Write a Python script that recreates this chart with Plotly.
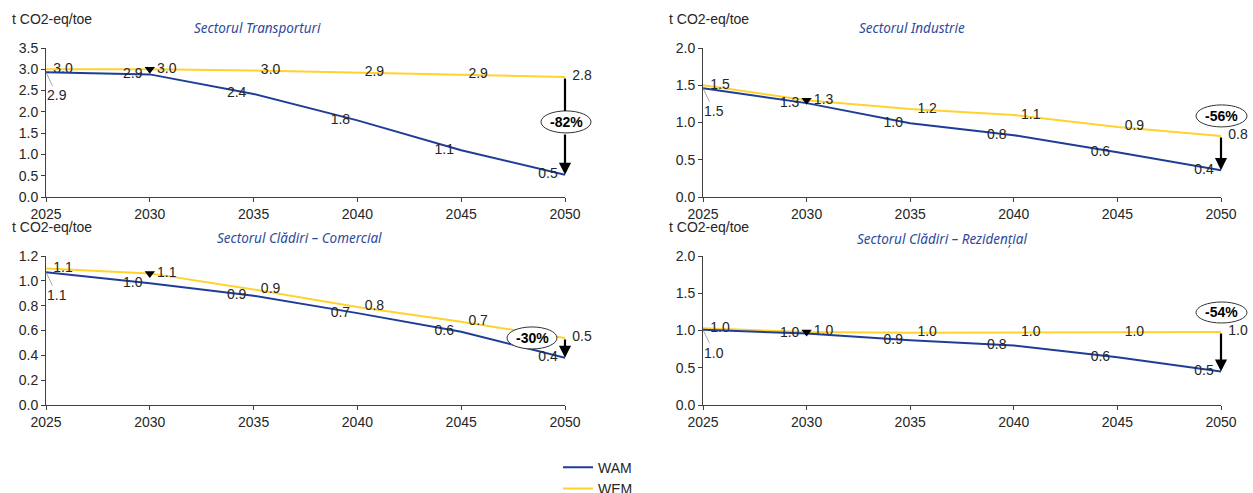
import plotly.graph_objects as go

# ---------------- data ----------------
years = [2025, 2030, 2035, 2040, 2045, 2050]

panel_titles = [
    "Sectorul Transporturi",
    "Sectorul Industrie",
    "Sectorul Clădiri – Comercial",
    "Sectorul Clădiri – Rezidențial",
]
unit_label = "t CO2-eq/toe"

wam_transport = [2.93, 2.88, 2.42, 1.80, 1.10, 0.52]
wem_transport = [3.00, 3.00, 2.97, 2.92, 2.88, 2.82]

wam_industrie = [1.46, 1.26, 0.99, 0.83, 0.60, 0.36]
wem_industrie = [1.50, 1.30, 1.18, 1.10, 0.94, 0.82]

wam_comercial = [1.07, 0.98, 0.88, 0.74, 0.59, 0.38]
wem_comercial = [1.10, 1.06, 0.93, 0.79, 0.67, 0.54]

wam_rezidential = [1.01, 0.96, 0.87, 0.80, 0.64, 0.45]
wem_rezidential = [1.03, 0.98, 0.97, 0.97, 0.97, 0.98]

reduction_labels = ["-82%", "-56%", "-30%", "-54%"]

y_max = [3.5, 2.0, 1.2, 2.0]
y_step = [0.5, 0.5, 0.2, 0.5]
x_ticks = [2025, 2030, 2035, 2040, 2045, 2050]

series_names = ["WAM", "WEM"]

# ---------------- styling ----------------
BLUE = "#1F3D98"
YELLOW = "#FFD22E"
TXT = "#262626"
AXC = "#404040"
FONT = "Liberation Sans, Arial, sans-serif"
FS = 14
W, H = 1253, 493

# plot areas in pixels: (left, right, top, bottom)
px_boxes = [(46, 565, 48, 197), (703, 1221, 48, 197),
            (46, 565, 256, 405), (703, 1221, 256, 405)]
title_pos = [(0.408, 1.134), (0.403, 1.134), (0.489, 1.121), (0.461, 1.114)]
# ellipse placement: (anchor, x0, x1, y0, y1) pixel offsets
ellipse_cfg = [("mid", -24, 26, -7, 15), ("wem", -25, 26, 9, 31),
               ("wem", -58, -8, -11, 11), ("wem", -25, 26, 9, 30)]

wams = [wam_transport, wam_industrie, wam_comercial, wam_rezidential]
wems = [wem_transport, wem_industrie, wem_comercial, wem_rezidential]

fig = go.Figure()
layout = dict(width=W, height=H,
              margin=dict(l=0, r=0, t=0, b=0, autoexpand=False),
              paper_bgcolor="white", plot_bgcolor="white",
              font=dict(family=FONT, size=FS, color=TXT),
              showlegend=True,
              legend=dict(orientation="v", x=558 / W, y=1 - 451.6 / H,
                          xanchor="left", yanchor="top",
                          font=dict(size=FS, color=TXT), tracegroupgap=0,
                          bgcolor="rgba(0,0,0,0)"))
annotations = []
shapes = []

for i in range(4):
    sfx = "" if i == 0 else str(i + 1)
    xa, ya = "x" + sfx, "y" + sfx
    l, r, t, b = px_boxes[i]
    layout["xaxis" + sfx] = dict(domain=[l / W, r / W], anchor=ya, range=[2025, 2050],
                                 tickvals=x_ticks, ticks="outside", ticklen=4,
                                 tickcolor=AXC, showline=True, linecolor=AXC, linewidth=1,
                                 showgrid=False, zeroline=False, automargin=False,
                                 tickfont=dict(size=FS, color=TXT, family=FONT))
    layout["yaxis" + sfx] = dict(domain=[1 - b / H, 1 - t / H], anchor=xa,
                                 range=[0, y_max[i]], dtick=y_step[i], tick0=0,
                                 tickformat=".1f", ticks="outside", ticklen=4,
                                 tickcolor=AXC, showline=True, linecolor=AXC, linewidth=1,
                                 showgrid=False, zeroline=False, automargin=False,
                                 tickfont=dict(size=FS, color=TXT, family=FONT))
    wam, wem = wams[i], wems[i]
    ghost = dict(size=10, color="rgba(0,0,0,0)")

    # WEM line
    fig.add_trace(go.Scatter(x=years, y=wem, mode="lines+markers+text", name=series_names[1],
                             line=dict(color=YELLOW, width=2), marker=ghost,
                             text=[f"{v:.1f}" for v in wem], textposition="middle right",
                             textfont=dict(size=FS, color=TXT),
                             cliponaxis=False, showlegend=(i == 0), legendrank=2,
                             xaxis=xa, yaxis=ya))
    # WAM line
    wam_txt = [f"{v:.1f}" for v in wam]
    wam_txt[0] = ""
    fig.add_trace(go.Scatter(x=years, y=wam, mode="lines+markers+text", name=series_names[0],
                             line=dict(color=BLUE, width=2), marker=ghost,
                             text=wam_txt, textposition="middle left",
                             textfont=dict(size=FS, color=TXT),
                             cliponaxis=False, showlegend=(i == 0), legendrank=1,
                             xaxis=xa, yaxis=ya))
    # 2030 marker
    fig.add_trace(go.Scatter(x=[years[1]], y=[wem[1]], mode="markers",
                             marker=dict(symbol="triangle-down", size=9, color="black"),
                             showlegend=False, cliponaxis=False, xaxis=xa, yaxis=ya))

    # WAM 2025 label with leader line
    annotations.append(dict(x=years[0], y=wam[0], xref=xa, yref=ya,
                            text=f"{wam[0]:.1f}", showarrow=True, arrowhead=0,
                            arrowwidth=0.7, arrowcolor="#808080", ax=11, ay=23,
                            font=dict(size=FS, color=TXT)))
    # subplot title
    annotations.append(dict(x=title_pos[i][0], y=title_pos[i][1],
                            xref=xa + " domain", yref=ya + " domain",
                            text=f"<i>{panel_titles[i]}</i>", showarrow=False,
                            xanchor="center", yanchor="middle",
                            font=dict(family="Noto Sans, sans-serif", size=13.5, color="#2E4A9C")))
    # unit label
    annotations.append(dict(x=-0.0694, y=1.195,
                            xref=xa + " domain", yref=ya + " domain",
                            text=unit_label, showarrow=False, xanchor="left", yanchor="middle",
                            font=dict(size=FS, color=TXT)))

    anc, x0, x1, y0, y1 = ellipse_cfg[i]
    arrow_style = dict(xref=xa, yref=ya, axref=xa, ayref=ya, text="", showarrow=True,
                       arrowsize=1.1, arrowwidth=2.2, arrowcolor="black")
    if anc == "mid":
        yanc = (wem[-1] + wam[-1]) / 2
        annotations.append(dict(x=years[-1], y=yanc, ax=years[-1], ay=wem[-1],
                                arrowhead=0, standoff=y1, startstandoff=0, **arrow_style))
        annotations.append(dict(x=years[-1], y=wam[-1], ax=years[-1], ay=yanc,
                                arrowhead=2, standoff=0, startstandoff=-y0, **arrow_style))
    else:
        yanc = wem[-1]
        annotations.append(dict(x=years[-1], y=wam[-1], ax=years[-1], ay=wem[-1],
                                arrowhead=2, standoff=0, startstandoff=0, **arrow_style))
    # ellipse anchored on the axis domain (unclipped): x=1 is 2050, y fraction from the value
    shapes.append(dict(type="circle", xref=xa + " domain", yref=ya + " domain",
                       xsizemode="pixel", ysizemode="pixel",
                       xanchor=(years[-1] - 2025) / (2050 - 2025), yanchor=yanc / y_max[i],
                       x0=x0, x1=x1, y0=y0, y1=y1,
                       line=dict(color="#333333", width=1), fillcolor="white", layer="above"))
    annotations.append(dict(x=years[-1], y=yanc, xref=xa, yref=ya,
                            xshift=(x0 + x1) / 2, yshift=(y0 + y1) / 2,
                            text=f"<b>{reduction_labels[i]}</b>", showarrow=False,
                            font=dict(size=FS, color="black")))

layout["annotations"] = annotations
layout["shapes"] = shapes
fig.update_layout(**layout)
fig.write_html("out.html", config={"displayModeBar": False},
               post_script="document.body.style.margin='0';document.body.style.overflow='hidden';")
